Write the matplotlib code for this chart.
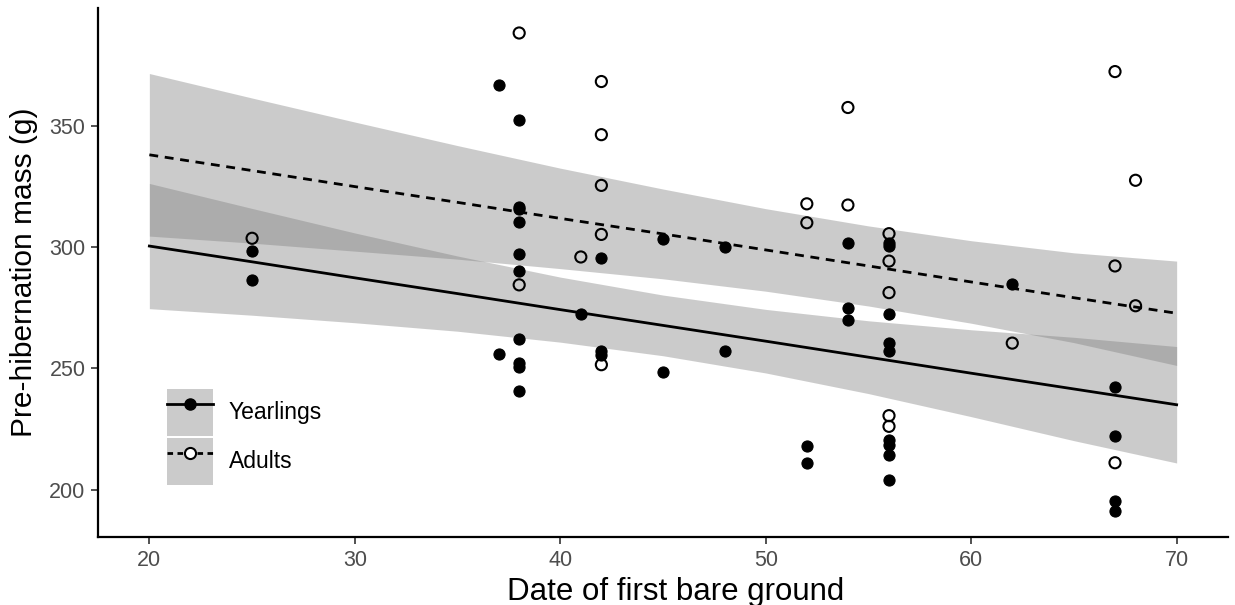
import matplotlib
matplotlib.use("Agg")
import matplotlib.pyplot as plt
from matplotlib.patches import Patch
from matplotlib.lines import Line2D

# ---- data ----
yearling_x = [25, 25, 37, 37,
              38, 38, 38, 38, 38, 38, 38, 38, 38, 38,
              41, 42, 42, 42, 45, 45, 48, 48, 52, 52, 54, 54, 54,
              56, 56, 56, 56, 56, 56, 56, 56, 56,
              62, 67, 67, 67, 67]
yearling_y = [298.5, 286.5, 366.6, 256.0,
              352.2, 316.5, 315.5, 310.3, 297.0, 290.0, 262.2, 252.4, 250.6, 240.8,
              272.3, 295.6, 257.0, 255.5, 303.4, 248.7, 300.1, 257.0, 217.9, 211.1, 301.8, 275.0, 269.9,
              301.5, 300.5, 272.3, 260.3, 257.3, 220.3, 218.5, 214.1, 203.8,
              284.9, 242.2, 222.3, 195.3, 191.2]

adult_x = [25, 38, 38, 41, 42, 42, 42, 42, 42, 52, 52, 54, 54,
           56, 56, 56, 56, 56, 62, 67, 67, 67, 68, 68]
adult_y = [303.6, 388.2, 284.4, 295.9, 368.2, 346.3, 325.4, 305.2, 251.5, 317.8, 310.0, 357.5, 317.3,
           305.5, 294.2, 281.2, 230.5, 226.1, 260.4, 372.3, 292.2, 211.1, 327.5, 275.8]

# fitted lines and confidence bands (read at these x positions)
band_x = [20, 25, 30, 35, 40, 45, 50, 55, 60, 65, 70]
yearling_fit = [300.4, 293.9, 287.3, 280.8, 274.2, 267.7, 261.2, 254.6, 248.0, 241.5, 235.0]
yearling_lo = [274.6, 271.9, 268.8, 265.3, 260.8, 255.2, 248.1, 239.6, 230.1, 220.2, 211.0]
yearling_hi = [326.2, 315.9, 305.8, 296.3, 287.6, 280.2, 274.3, 269.6, 265.9, 262.8, 259.0]
adult_fit = [338.0, 331.5, 324.9, 318.4, 311.8, 305.4, 298.8, 292.2, 285.6, 279.1, 272.7]
adult_lo = [304.5, 301.6, 298.3, 295.0, 291.1, 286.9, 281.8, 275.7, 268.6, 260.6, 251.2]
adult_hi = [371.5, 361.4, 351.5, 341.8, 332.5, 323.9, 315.8, 308.7, 302.6, 297.6, 294.2]

x_ticks = [20, 30, 40, 50, 60, 70]
y_ticks = [200, 250, 300, 350]

plt.rcParams['font.family'] = ['Liberation Sans', 'DejaVu Sans']

fig = plt.figure(figsize=(12.35, 6.05), dpi=100)
ax = fig.add_axes([98/1235, 1 - 537/605, (1228-98)/1235, (537-8)/605])

band_color = '#7f7f7f'
band_alpha = 0.4

ax.fill_between(band_x, yearling_lo, yearling_hi, color=band_color, alpha=band_alpha,
                linewidth=0, zorder=1)
ax.fill_between(band_x, adult_lo, adult_hi, color=band_color, alpha=band_alpha,
                linewidth=0, zorder=1)

ax.scatter(yearling_x, yearling_y, s=64, color='black', edgecolors='black',
           linewidths=0.8, zorder=3)
ax.scatter(adult_x, adult_y, s=64, facecolors='none', edgecolors='black',
           linewidths=1.5, zorder=3)

ax.plot(band_x, yearling_fit, color='black', linewidth=2.0, zorder=4)
ax.plot(band_x, adult_fit, color='black', linewidth=2.0, linestyle=(0, (3.2, 2.4)), zorder=4)

ax.set_xlim(17.5, 72.5)
ax.set_ylim(180.5, 398.5)
ax.set_xticks(x_ticks)
ax.set_yticks(y_ticks)

for side in ['top', 'right']:
    ax.spines[side].set_visible(False)
for side in ['left', 'bottom']:
    ax.spines[side].set_linewidth(1.6)
    ax.spines[side].set_color('black')

ax.tick_params(axis='both', which='major', length=5, width=1.2, color='#333333',
               labelsize=15.5, labelcolor='#4d4d4d', pad=4)

ax.set_xlabel('Date of first bare ground', fontsize=22.5, color='black')
ax.xaxis.set_label_coords(0.511, -0.075, transform=ax.transAxes)
ax.set_ylabel('Pre-hibernation mass (g)', fontsize=21.5, color='black', labelpad=8)

h_year = (Patch(facecolor=band_color, alpha=band_alpha, edgecolor='none'),
          Line2D([], [], color='black', linewidth=2.0, marker='o', markersize=8,
                 markerfacecolor='black', markeredgecolor='black'))
h_adult = (Patch(facecolor=band_color, alpha=band_alpha, edgecolor='none'),
           Line2D([], [], color='black', linewidth=2.0, linestyle=(0, (2.0, 1.6)), marker='o',
                  markersize=8, markerfacecolor='white', markeredgecolor='black',
                  markeredgewidth=1.5))
leg = ax.legend([h_year, h_adult], ['Yearlings', 'Adults'], loc='lower left',
                bbox_to_anchor=(0.061, 0.098), frameon=False, fontsize=16.5,
                handlelength=2.0, handleheight=2.78, labelspacing=0.1,
                handletextpad=0.7, borderpad=0, borderaxespad=0, numpoints=1)

fig.savefig('out.png', dpi=100)
